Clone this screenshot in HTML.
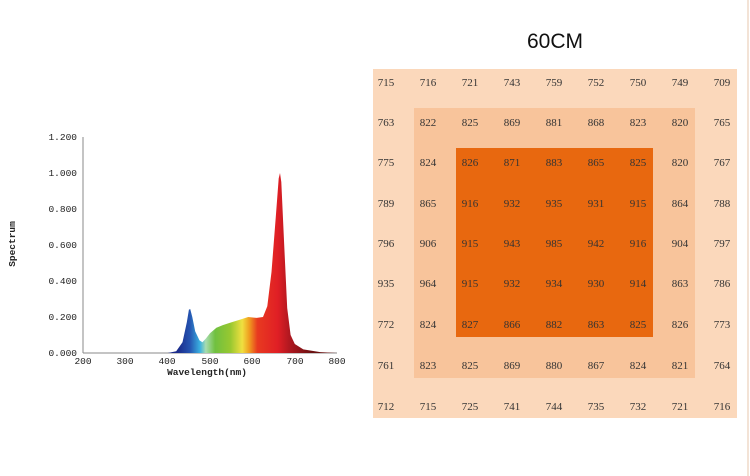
<!DOCTYPE html>
<html><head><style>
html,body{margin:0;padding:0;background:#fff;width:750px;height:476px;overflow:hidden}
</style></head><body>
<svg width="750" height="476" viewBox="0 0 750 476" xmlns="http://www.w3.org/2000/svg">
<defs>
<linearGradient id="sp" gradientUnits="userSpaceOnUse" x1="167.7" y1="0" x2="337" y2="0">
<stop offset="0.06" stop-color="#1a2a8a"/>
<stop offset="0.13" stop-color="#2453b0"/>
<stop offset="0.19" stop-color="#3ab0e0"/>
<stop offset="0.225" stop-color="#a8dcb0"/>
<stop offset="0.28" stop-color="#70c040"/>
<stop offset="0.37" stop-color="#98c830"/>
<stop offset="0.44" stop-color="#f0e040"/>
<stop offset="0.48" stop-color="#f0a020"/>
<stop offset="0.53" stop-color="#e83a20"/>
<stop offset="0.65" stop-color="#e01f25"/>
<stop offset="0.72" stop-color="#b01820"/>
<stop offset="0.85" stop-color="#6a1010"/>
</linearGradient>
</defs>
<!-- axes -->
<g stroke="#888" stroke-width="1" fill="none">
<line x1="83" y1="137" x2="83" y2="353"/>
<line x1="83" y1="353" x2="337" y2="353"/>
</g>
<g font-family="Liberation Mono, monospace" font-size="9.5" fill="#222" text-anchor="end">
<text x="77" y="140">1.200</text>
<text x="77" y="176">1.000</text>
<text x="77" y="212">0.800</text>
<text x="77" y="248">0.600</text>
<text x="77" y="284">0.400</text>
<text x="77" y="320">0.200</text>
<text x="77" y="356">0.000</text>
</g>
<g font-family="Liberation Mono, monospace" font-size="9.5" fill="#222" text-anchor="middle">
<text x="83" y="364">200</text>
<text x="125" y="364">300</text>
<text x="167" y="364">400</text>
<text x="210" y="364">500</text>
<text x="252" y="364">600</text>
<text x="295" y="364">700</text>
<text x="337" y="364">800</text>
<text x="207" y="375" font-weight="bold">Wavelength(nm)</text>
<text transform="translate(15,244) rotate(-90)" font-weight="bold">Spectrum</text>
</g>
<path fill="url(#sp)" d="M167.7,353 L176.2,351.2 L182.5,342.2 L186.8,322.4 L188.9,309.8 L190.2,309 L192.3,317 L195.2,331.4 L199.5,340.4 L202.4,342.2 L205.8,338.6 L210,333.2 L216.4,327.8 L222.8,325.1 L231.2,322.4 L239.7,319.7 L248.2,317 L256.7,317.9 L263,317 L267.3,306.2 L271.5,272 L275.7,218 L278.7,178.4 L280,173 L281.3,182 L284.2,245 L287.2,308 L290.6,335 L294.8,344 L303.3,349.4 L320.2,352.1 L337,353 Z"/>
<!-- heat map -->
<rect x="373" y="69" width="364" height="349" fill="#fbd8bb"/>
<rect x="414" y="108" width="281" height="270" fill="#f8c49b"/>
<rect x="456" y="148" width="197" height="189" fill="#e8680f"/>
<line x1="748" y1="0" x2="748" y2="476" stroke="#f3e3d6" stroke-width="2"/>
<text x="555" y="48" font-family="Liberation Sans, sans-serif" font-size="21" text-anchor="middle" fill="#111">60CM</text>
<g font-family="Liberation Serif, serif" font-size="11" fill="#333" text-anchor="middle">
<text y="86"><tspan x="386">715</tspan><tspan x="428">716</tspan><tspan x="470">721</tspan><tspan x="512">743</tspan><tspan x="554">759</tspan><tspan x="596">752</tspan><tspan x="638">750</tspan><tspan x="680">749</tspan><tspan x="722">709</tspan></text>
<text y="126"><tspan x="386">763</tspan><tspan x="428">822</tspan><tspan x="470">825</tspan><tspan x="512">869</tspan><tspan x="554">881</tspan><tspan x="596">868</tspan><tspan x="638">823</tspan><tspan x="680">820</tspan><tspan x="722">765</tspan></text>
<text y="166"><tspan x="386">775</tspan><tspan x="428">824</tspan><tspan x="470">826</tspan><tspan x="512">871</tspan><tspan x="554">883</tspan><tspan x="596">865</tspan><tspan x="638">825</tspan><tspan x="680">820</tspan><tspan x="722">767</tspan></text>
<text y="207"><tspan x="386">789</tspan><tspan x="428">865</tspan><tspan x="470">916</tspan><tspan x="512">932</tspan><tspan x="554">935</tspan><tspan x="596">931</tspan><tspan x="638">915</tspan><tspan x="680">864</tspan><tspan x="722">788</tspan></text>
<text y="247"><tspan x="386">796</tspan><tspan x="428">906</tspan><tspan x="470">915</tspan><tspan x="512">943</tspan><tspan x="554">985</tspan><tspan x="596">942</tspan><tspan x="638">916</tspan><tspan x="680">904</tspan><tspan x="722">797</tspan></text>
<text y="287"><tspan x="386">935</tspan><tspan x="428">964</tspan><tspan x="470">915</tspan><tspan x="512">932</tspan><tspan x="554">934</tspan><tspan x="596">930</tspan><tspan x="638">914</tspan><tspan x="680">863</tspan><tspan x="722">786</tspan></text>
<text y="328"><tspan x="386">772</tspan><tspan x="428">824</tspan><tspan x="470">827</tspan><tspan x="512">866</tspan><tspan x="554">882</tspan><tspan x="596">863</tspan><tspan x="638">825</tspan><tspan x="680">826</tspan><tspan x="722">773</tspan></text>
<text y="369"><tspan x="386">761</tspan><tspan x="428">823</tspan><tspan x="470">825</tspan><tspan x="512">869</tspan><tspan x="554">880</tspan><tspan x="596">867</tspan><tspan x="638">824</tspan><tspan x="680">821</tspan><tspan x="722">764</tspan></text>
<text y="410"><tspan x="386">712</tspan><tspan x="428">715</tspan><tspan x="470">725</tspan><tspan x="512">741</tspan><tspan x="554">744</tspan><tspan x="596">735</tspan><tspan x="638">732</tspan><tspan x="680">721</tspan><tspan x="722">716</tspan></text>
</g>
</svg>
</body></html>
